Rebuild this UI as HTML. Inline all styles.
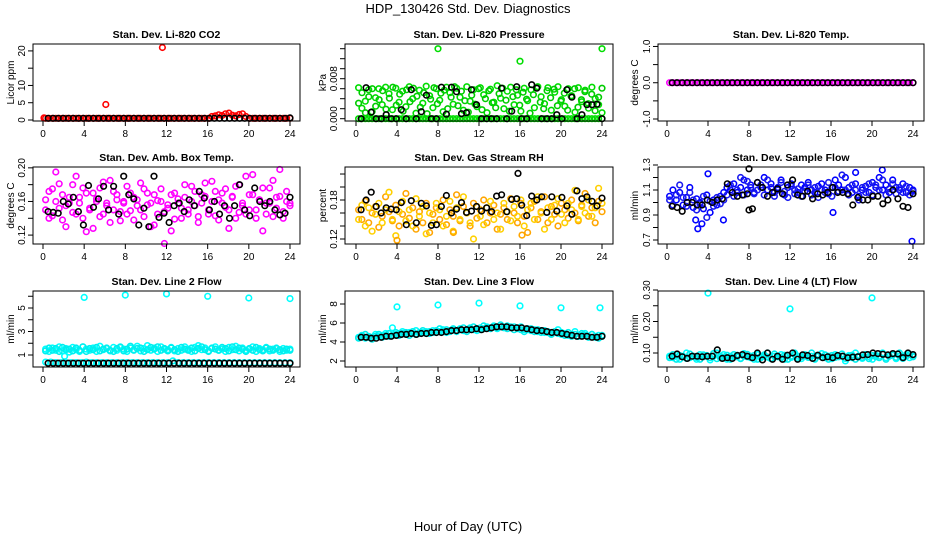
<!DOCTYPE html>
<html><head><meta charset="utf-8">
<style>
html,body{margin:0;padding:0;background:#fff;}
svg{display:block;font-family:"Liberation Sans",Arial,sans-serif;}
</style></head>
<body>
<svg id="chart" width="936" height="540" viewBox="0 0 936 540" xmlns="http://www.w3.org/2000/svg">
<rect width="936" height="540" fill="#fff"/>
<text x="468" y="13" font-size="13" text-anchor="middle">HDP_130426  Std. Dev. Diagnostics</text>
<text x="468" y="531" font-size="13" text-anchor="middle">Hour of Day (UTC)</text>
</svg>
<script>
// ---- data (hour-of-day series; colored sets evenly spaced over 0-24 h) ----
const xTicks = [0,4,8,12,16,20,24];
const titles = ["Stan. Dev. Li-820 CO2","Stan. Dev. Li-820 Pressure","Stan. Dev. Li-820 Temp.","Stan. Dev. Amb. Box Temp.","Stan. Dev. Gas Stream RH","Stan. Dev. Sample Flow","Stan. Dev. Line 2 Flow","Stan. Dev. Line 3 Flow","Stan. Dev. Line 4 (LT) Flow"];
const yTitles = ["Licor ppm","kPa","degrees C","degrees C","percent","ml/min","ml/min","ml/min","ml/min"];
const yTickVals = [[0,5,10,15,20],[0,0.002,0.004,0.006,0.008,0.010,0.012,0.014],[-1,-0.5,0,0.5,1],[0.12,0.14,0.16,0.18,0.20],[0.12,0.14,0.16,0.18,0.20,0.22],[0.7,0.8,0.9,1.0,1.1,1.2,1.3],[1,2,3,4,5,6],[2,4,6,8],[0.10,0.15,0.20,0.25,0.30]];
const yTickLabels = [["0","5","10","","20"],["0.000","","","","0.008","","",""],["-1.0","","0.0","","1.0"],["0.12","","0.16","","0.20"],["0.12","","","0.18","",""],["0.7","","0.9","","1.1","","1.3"],["1","","3","","5",""],["2","4","6","8"],["0.10","","0.20","","0.30"]];

const p1Red = [0.5,0.5,0.5,0.5,0.5,0.5,0.5,0.5,0.5,0.5,0.5,0.5,0.5,0.5,0.5,0.5,0.5,0.5,0.5,0.5,0.5,0.5,0.5,0.5,0.5,0.5,0.5,0.5,0.5,0.5,0.5,0.5,0.5,0.5,0.5,0.5,0.5,0.5,0.5,0.5,0.5,0.5,0.5,0.5,0.5,0.5,0.5,0.5,0.5,1.0,1.2,1.5,1.3,1.8,2.0,1.4,1.2,1.6,1.8,1.0,0.5,0.5,0.5,0.5,0.5,0.5,0.5,0.5,0.5,0.5,0.5,0.5,0.5];
const p1RedExtraH = [0.1,6.1,11.6];
const p1RedExtraV = [0.6,4.5,21];
const p1Black = [0.5,0.5,0.5,0.5,0.5,0.5,0.5,0.5,0.5,0.5,0.5,0.5,0.5,0.5,0.5,0.5,0.5,0.5,0.5,0.5,0.5,0.5,0.5,0.5,0.5,0.5,0.5,0.5,0.5,0.5,0.5,0.5,0.5,0.5,0.5,0.5,0.5,0.5,0.5,0.5,0.5,0.5,0.5,0.5,0.5,0.5,0.5,0.5,0.6];

const p2GreenA = [0.0062,0.0021,0.0035,0.0058,0.0014,0.0042,0.0060,0.0028,0.0063,0.0050,0.0018,0.0061,0.0033,0.0055,0.0024,0.0064,0.0040,0.0011,0.0057,0.0031,0.0065,0.0046,0.0022,0.0060,0.0037,0.0014,0.0063,0.0052,0.0029,0.0061,0.0043,0.0017,0.0064,0.0035,0.0058,0.0024,0.0062,0.0048,0.0012,0.0059,0.0033,0.0066,0.0041,0.0020,0.0055,0.0063,0.0028,0.0047,0.0015,0.0061,0.0036,0.0058,0.0022,0.0064,0.0044,0.0030,0.0062,0.0017,0.0053,0.0064,0.0038,0.0025,0.0060,0.0046,0.0013,0.0062,0.0034,0.0057,0.0021,0.0063,0.0040,0.0028,0.0012];
const p2GreenB = [0.0031,0.0052,0.0012,0.0044,0.0060,0.0025,0.0038,0.0056,0.0019,0.0041,0.0063,0.0027,0.0049,0.0015,0.0058,0.0034,0.0061,0.0045,0.0023,0.0052,0.0010,0.0039,0.0062,0.0030,0.0051,0.0057,0.0020,0.0043,0.0064,0.0026,0.0055,0.0036,0.0013,0.0047,0.0029,0.0060,0.0018,0.0040,0.0056,0.0032,0.0022,0.0050,0.0061,0.0037,0.0015,0.0044,0.0058,0.0027,0.0053,0.0039,0.0011,0.0048,0.0063,0.0033,0.0020,0.0056,0.0042,0.0059,0.0026,0.0035,0.0051,0.0017,0.0045,0.0060,0.0023,0.0038,0.0054,0.0030,0.0049,0.0016,0.0043,0.0061];
const p2GreenC = [0,0,0,0,0,0,0,0,0,0,0,0,0,0,0,0,0,0,0,0,0,0,0,0,0,0,0,0,0,0,0,0,0,0,0,0,0,0,0,0,0,0,0,0,0,0,0,0,0,0,0,0,0,0,0,0,0,0,0,0,0,0,0,0,0,0,0,0,0,0,0,0,0];
const p2GreenExtraH = [8,16,24];
const p2GreenExtraV = [0.0140,0.0115,0.0140];
const p2Black = [0,0.0062,0.0013,0,0,0.0008,0,0,0.0018,0,0.0058,0,0.0014,0.0047,0,0,0.0063,0.0009,0.0063,0.0054,0.0010,0.0012,0.0058,0.0028,0,0,0,0,0.0061,0,0.0015,0.0064,0,0,0.0068,0.0061,0,0,0,0.0008,0,0.0058,0.0043,0,0.0008,0.0028,0.0028,0.0029,0];

const p3Mag = [0,0,0,0,0,0,0,0,0,0,0,0,0,0,0,0,0,0,0,0,0,0,0,0,0,0,0,0,0,0,0,0,0,0,0,0,0,0,0,0,0,0,0,0,0,0,0,0,0,0,0,0,0,0,0,0,0,0,0,0,0,0,0,0,0,0,0,0,0,0,0,0,0];
const p3Black = [0,0,0,0,0,0,0,0,0,0,0,0,0,0,0,0,0,0,0,0,0,0,0,0,0,0,0,0,0,0,0,0,0,0,0,0,0,0,0,0,0,0,0,0,0,0,0,0,0];

const p4MagA = [0.150,0.172,0.143,0.160,0.181,0.138,0.155,0.165,0.147,0.190,0.158,0.140,0.170,0.152,0.128,0.163,0.176,0.145,0.158,0.185,0.150,0.168,0.137,0.160,0.178,0.149,0.165,0.155,0.182,0.142,0.170,0.158,0.132,0.161,0.175,0.148,0.156,0.168,0.139,0.163,0.152,0.180,0.145,0.160,0.172,0.135,0.158,0.166,0.150,0.184,0.143,0.162,0.170,0.153,0.128,0.165,0.178,0.147,0.158,0.190,0.150,0.168,0.140,0.162,0.176,0.145,0.158,0.185,0.152,0.166,0.140,0.172,0.158];
const p4MagB = [0.162,0.140,0.175,0.195,0.152,0.168,0.130,0.158,0.180,0.145,0.165,0.176,0.124,0.150,0.170,0.160,0.142,0.183,0.155,0.135,0.172,0.162,0.148,0.158,0.145,0.170,0.138,0.162,0.150,0.175,0.156,0.130,0.168,0.145,0.160,0.110,0.152,0.125,0.170,0.158,0.140,0.165,0.150,0.178,0.155,0.142,0.168,0.182,0.145,0.160,0.172,0.138,0.158,0.175,0.150,0.166,0.140,0.180,0.155,0.145,0.168,0.192,0.150,0.162,0.125,0.158,0.176,0.142,0.165,0.198,0.148,0.160,0.155];
const p4Black = [0.148,0.147,0.146,0.160,0.157,0.165,0.148,0.132,0.179,0.153,0.163,0.178,0.150,0.178,0.145,0.190,0.168,0.163,0.132,0.152,0.130,0.190,0.141,0.146,0.135,0.155,0.158,0.148,0.162,0.155,0.172,0.164,0.150,0.160,0.145,0.155,0.140,0.155,0.180,0.150,0.143,0.176,0.160,0.155,0.160,0.150,0.144,0.146,0.165];

const p5OrA = [0.165,0.150,0.178,0.145,0.160,0.170,0.138,0.155,0.185,0.162,0.148,0.172,0.140,0.158,0.190,0.152,0.168,0.135,0.162,0.145,0.175,0.130,0.158,0.168,0.150,0.180,0.142,0.165,0.155,0.188,0.148,0.170,0.160,0.140,0.175,0.152,0.165,0.180,0.145,0.160,0.172,0.135,0.158,0.168,0.150,0.182,0.160,0.145,0.175,0.155,0.130,0.168,0.178,0.150,0.162,0.185,0.145,0.170,0.158,0.140,0.175,0.165,0.152,0.180,0.160,0.148,0.172,0.190,0.155,0.168,0.145,0.178,0.162];
const p5OrB = [0.150,0.172,0.140,0.168,0.132,0.158,0.175,0.145,0.165,0.192,0.150,0.125,0.162,0.178,0.148,0.165,0.140,0.182,0.155,0.170,0.128,0.160,0.145,0.175,0.165,0.140,0.155,0.178,0.132,0.168,0.150,0.185,0.160,0.145,0.120,0.170,0.155,0.142,0.168,0.178,0.150,0.160,0.135,0.175,0.162,0.148,0.170,0.155,0.180,0.140,0.165,0.175,0.150,0.185,0.160,0.135,0.168,0.150,0.172,0.182,0.158,0.145,0.175,0.165,0.195,0.150,0.170,0.160,0.180,0.155,0.168,0.198,0.175];
const p5OrExtraH = [4,9.5,16.2];
const p5OrExtraV = [0.118,0.130,0.126];
const p5Black = [0.165,0.180,0.192,0.170,0.160,0.168,0.166,0.165,0.176,0.142,0.179,0.145,0.175,0.171,0.141,0.142,0.170,0.187,0.160,0.166,0.176,0.161,0.163,0.170,0.163,0.168,0.162,0.186,0.188,0.162,0.181,0.182,0.172,0.156,0.186,0.180,0.185,0.161,0.185,0.163,0.184,0.171,0.158,0.194,0.182,0.185,0.178,0.171,0.183];
const p5BlackExtraH = [15.8];
const p5BlackExtraV = [0.221];

const p6BlueA = [1.05,1.10,1.02,1.08,0.98,1.04,1.12,0.96,1.03,1.00,0.95,1.06,0.92,1.02,0.98,1.05,1.08,1.12,1.10,1.15,1.08,1.12,1.18,1.10,1.14,1.08,1.16,1.12,1.20,1.10,1.15,1.08,1.12,1.18,1.06,1.12,1.15,1.10,1.08,1.14,1.12,1.16,1.10,1.08,1.13,1.15,1.10,1.07,1.12,1.18,1.14,1.10,1.20,1.12,1.08,1.15,1.05,1.10,1.13,1.08,1.16,1.12,1.20,1.10,1.14,1.08,1.18,1.12,1.10,1.15,1.08,1.12,1.10];
const p6BlueB = [1.02,0.98,1.06,1.14,1.04,0.97,1.08,1.02,0.94,0.99,1.05,0.88,1.01,0.97,1.04,0.99,1.02,1.06,1.14,1.05,1.10,1.20,1.06,1.17,1.12,1.07,1.10,1.14,1.06,1.18,1.12,1.05,1.10,1.16,1.09,1.04,1.13,1.07,1.11,1.05,1.09,1.14,1.06,1.12,1.04,1.10,1.08,1.16,1.05,1.12,1.09,1.22,1.10,1.06,1.14,1.10,1.02,1.12,1.08,1.15,1.06,1.14,1.10,1.18,1.06,1.11,1.15,1.07,1.12,1.08,1.13,1.06,1.09];
const p6BlueExtraH = [2.8,3.0,3.4,5.5,16.2,18.4,21,23.9,4];
const p6BlueExtraV = [0.86,0.79,0.83,0.86,0.92,1.24,1.26,0.69,1.23];
const p6Black = [0.97,0.96,0.93,1.0,1.0,0.98,0.98,1.02,1.0,1.02,1.03,1.15,1.08,1.05,1.06,1.07,0.95,1.16,1.12,1.05,1.08,1.11,1.07,1.14,1.18,1.06,1.05,1.09,1.03,1.07,1.06,1.08,1.12,1.08,1.08,1.07,0.98,1.04,1.02,1.02,1.05,1.05,0.99,1.02,1.10,1.03,0.97,0.96,1.07];
const p6BlackExtraH = [8,8];
const p6BlackExtraV = [1.27,0.94];

const p7CyanA = [1.5,1.3,1.6,1.4,1.7,1.35,1.55,1.25,1.65,1.45,1.3,1.7,1.5,1.4,1.6,1.3,1.75,1.45,1.55,1.35,1.65,1.4,1.7,1.5,1.3,1.6,1.45,1.75,1.35,1.55,1.8,1.4,1.6,1.3,1.7,1.5,1.45,1.65,1.35,1.55,1.4,1.7,1.5,1.3,1.65,1.8,1.45,1.6,1.35,1.55,1.7,1.4,1.5,1.3,1.65,1.45,1.75,1.35,1.6,1.4,1.5,1.7,1.3,1.55,1.45,1.65,1.35,1.5,1.6,1.3,1.55,1.4,1.5];
const p7CyanB = [1.35,1.6,1.4,1.55,1.3,1.65,1.45,1.5,1.35,1.6,1.4,1.7,1.3,1.55,1.45,1.65,1.35,1.5,1.6,1.4,1.3,1.55,1.65,1.35,1.5,1.75,1.4,1.55,1.6,1.3,1.45,1.65,1.5,1.7,1.4,1.55,1.35,1.6,1.45,1.3,1.65,1.5,1.4,1.6,1.35,1.55,1.7,1.45,1.3,1.6,1.5,1.4,1.65,1.55,1.35,1.7,1.45,1.6,1.5,1.3,1.55,1.4,1.65,1.45,1.35,1.6,1.5,1.4,1.55,1.45,1.35,1.5,1.4];
const p7CyanC = [0.4,0.4,0.35,0.35,0.35,0.35,0.35,0.35,0.4,0.35,0.35,0.35,0.35,0.35,0.35,0.35,0.35,0.35,0.35,0.35,0.35,0.35,0.35,0.35,0.35,0.5,0.35,0.35,0.35,0.35,0.35,0.35,0.35,0.35,0.35,0.35,0.35,0.35,0.35,0.35,0.35,0.35,0.35,0.35,0.35,0.35,0.35,0.35,0.35];
const p7CyanExtraH = [2.1,4,8,12,16,20,24];
const p7CyanExtraV = [0.9,5.9,6.1,6.2,6.0,5.85,5.8];
const p7Black = [0.3,0.3,0.3,0.3,0.3,0.3,0.3,0.3,0.3,0.3,0.3,0.3,0.3,0.3,0.3,0.3,0.3,0.3,0.3,0.3,0.3,0.3,0.3,0.3,0.3,0.3,0.3,0.3,0.3,0.3,0.3,0.3,0.3,0.3,0.3,0.3,0.3,0.3,0.3,0.3,0.3,0.3,0.3,0.3,0.3,0.3,0.3,0.3,0.3];

const p8CyanA = [4.5,4.7,4.4,4.6,4.5,4.8,4.6,4.7,4.9,4.6,5.5,4.8,4.9,5.1,4.8,5.0,4.9,5.2,4.9,5.0,5.1,4.9,5.2,5.0,5.1,5.3,5.0,5.2,5.3,5.1,5.4,5.2,5.3,5.5,5.3,5.2,5.5,5.4,5.6,5.5,5.7,5.4,5.6,5.5,5.7,5.5,5.6,5.4,5.6,5.3,5.4,5.2,5.3,5.1,5.2,5.0,5.1,4.9,5.0,5.3,4.8,4.9,4.7,4.8,5.1,4.6,4.7,4.9,4.6,4.8,4.5,4.7,4.6];
const p8CyanB = [4.4,4.6,4.8,4.5,4.3,4.6,4.8,4.5,4.7,4.9,4.7,5.0,4.7,4.9,5.0,4.7,5.1,4.8,5.0,5.2,4.9,5.1,5.0,5.2,5.4,5.1,5.3,5.1,5.4,5.2,5.3,5.5,5.1,5.4,5.6,5.4,5.3,5.7,5.5,5.4,5.6,5.5,5.8,5.6,5.4,5.6,5.3,5.5,5.3,5.1,5.3,5.4,5.1,5.3,5.0,5.2,5.0,4.8,5.1,4.9,5.0,4.7,5.0,4.6,4.8,4.6,4.9,4.7,4.5,4.8,4.6,4.4,4.7];
const p8CyanC = [1.0,1.0,0.95,1.0,1.0,1.05,1.0,1.0,0.95,1.0,1.0,1.0,1.05,1.0,1.0,0.95,0.8,1.0,1.0,1.05,1.0,1.0,1.0,0.95,1.0,1.0,1.0,1.05,1.0,1.0,0.95,1.0,1.0,1.0,1.0,1.05,1.0,1.0,0.95,1.0,1.0,1.0,1.0,1.05,1.0,1.0,0.95,1.0,1.0];
const p8CyanExtraH = [4,8,12,16,20,23.8];
const p8CyanExtraV = [7.7,7.9,8.1,7.8,7.6,7.6];
const p8Black = [4.5,4.5,4.4,4.4,4.5,4.6,4.6,4.7,4.8,4.8,4.9,4.8,4.9,4.9,5.0,5.0,5.0,5.1,5.2,5.2,5.3,5.3,5.3,5.4,5.3,5.4,5.5,5.6,5.6,5.6,5.5,5.5,5.5,5.4,5.3,5.2,5.2,5.1,5.0,5.0,4.9,4.8,4.7,4.6,4.6,4.6,4.5,4.5,4.6];

const p9CyanA = [0.09,0.085,0.095,0.08,0.09,0.1,0.085,0.09,0.08,0.095,0.088,0.092,0.078,0.09,0.1,0.085,0.095,0.08,0.09,0.087,0.093,0.082,0.098,0.088,0.09,0.08,0.095,0.085,0.09,0.1,0.083,0.09,0.088,0.095,0.08,0.092,0.086,0.1,0.09,0.082,0.095,0.088,0.09,0.08,0.093,0.098,0.085,0.09,0.082,0.095,0.088,0.09,0.075,0.092,0.085,0.1,0.09,0.083,0.095,0.088,0.08,0.093,0.09,0.1,0.085,0.09,0.095,0.082,0.09,0.088,0.095,0.085,0.09];
const p9CyanB = [0.085,0.095,0.08,0.092,0.088,0.083,0.097,0.09,0.086,0.08,0.094,0.09,0.085,0.098,0.082,0.09,0.087,0.093,0.08,0.095,0.088,0.083,0.09,0.096,0.085,0.092,0.08,0.09,0.094,0.087,0.082,0.097,0.09,0.085,0.093,0.08,0.09,0.095,0.083,0.088,0.092,0.086,0.1,0.082,0.09,0.087,0.094,0.08,0.092,0.086,0.09,0.097,0.083,0.088,0.093,0.08,0.09,0.086,0.095,0.082,0.092,0.088,0.085,0.097,0.08,0.09,0.093,0.086,0.1,0.083,0.09,0.095,0.088];
const p9CyanExtraH = [4,12,20];
const p9CyanExtraV = [0.29,0.24,0.275];
const p9Black = [0.09,0.097,0.088,0.083,0.09,0.09,0.088,0.09,0.09,0.11,0.083,0.085,0.083,0.092,0.095,0.09,0.085,0.1,0.078,0.1,0.08,0.09,0.08,0.093,0.1,0.08,0.094,0.092,0.083,0.093,0.085,0.088,0.085,0.092,0.09,0.085,0.087,0.088,0.094,0.095,0.1,0.098,0.096,0.094,0.098,0.097,0.085,0.1,0.095];

// ---- layout (not data) ----
const cols = [{bx0:33,bx1:300,h0:43,h24:290,lab:14},{bx0:345,bx1:613,h0:356,h24:602,lab:326},{bx0:658,bx1:924,h0:667,h24:913,lab:638}];
const rows = [{by0:44,by1:121},{by0:167,by1:244},{by0:291,by1:367}];
const yDomains = [[-0.29,22.0],[-0.00046,0.01494],[-1.055,1.068],[0.1094,0.201],[0.1123,0.2308],[0.668,1.284],[-0.021,6.447],[1.368,9.37],[0.0556,0.2968]];

const panels = [
 {series:[[p1Red,'#ff0000'],[p1Black,'#000']], extras:[[p1RedExtraH,p1RedExtraV,'#ff0000']]},
 {series:[[p2GreenA,'#00dd00'],[p2GreenB,'#00cc00'],[p2GreenC,'#00dd00'],[p2Black,'#000']], extras:[[p2GreenExtraH,p2GreenExtraV,'#00dd00']]},
 {series:[[p3Mag,'#ff00ff'],[p3Black,'#000']], extras:[]},
 {series:[[p4MagA,'#ff00ff'],[p4MagB,'#ff00ff'],[p4Black,'#000']], extras:[]},
 {series:[[p5OrA,'#ffa500'],[p5OrB,'#ffd000'],[p5Black,'#000']], extras:[[p5OrExtraH,p5OrExtraV,'#ffa500'],[p5BlackExtraH,p5BlackExtraV,'#000']]},
 {series:[[p6BlueA,'#0000ff'],[p6BlueB,'#1a1aee'],[p6Black,'#000']], extras:[[p6BlueExtraH,p6BlueExtraV,'#0000ff'],[p6BlackExtraH,p6BlackExtraV,'#000']]},
 {series:[[p7CyanA,'#00ffff'],[p7CyanB,'#00eeee'],[p7CyanC,'#00ffff'],[p7Black,'#000']], extras:[[p7CyanExtraH,p7CyanExtraV,'#00ffff']]},
 {series:[[p8CyanA,'#00ffff'],[p8CyanB,'#00eeee'],[p8CyanC,'#00ffff'],[p8Black,'#000']], extras:[[p8CyanExtraH,p8CyanExtraV,'#00ffff']]},
 {series:[[p9CyanA,'#00ffff'],[p9CyanB,'#00eeee'],[p9Black,'#000']], extras:[[p9CyanExtraH,p9CyanExtraV,'#00ffff']]}
];

const NS = 'http://www.w3.org/2000/svg';
const svg = document.getElementById('chart');
function mk(tag, attrs, parent){ const e=document.createElementNS(NS,tag); for(const k in attrs) e.setAttribute(k,attrs[k]); (parent||svg).appendChild(e); return e; }

panels.forEach((p,i)=>{
  const c = cols[i%3], r = rows[Math.floor(i/3)], dom = yDomains[i];
  const xs = h => c.h0 + (c.h24-c.h0)*h/24;
  const ys = v => r.by1 - (v-dom[0])/(dom[1]-dom[0])*(r.by1-r.by0);
  const g = mk('g',{});
  
  
  const t = mk('text',{x:(c.bx0+c.bx1)/2,y:r.by0-6,'font-size':10.5,'font-weight':'bold','text-anchor':'middle'},g);
  t.textContent = titles[i];
  
  
  const yl = mk('text',{transform:`translate(${c.lab},${(r.by0+r.by1)/2}) rotate(-90)`,'font-size':10,'text-anchor':'middle'},g);
  yl.textContent = yTitles[i];
  
  
  const pts = mk('g',{fill:'none','stroke-width':1.6},g);
  
  
  const drawPt = (h,v,col)=>{
    const y = ys(v); if (y<r.by0-2||y>r.by1+2) return;
    const cpt = mk('circle',{cx:xs(h).toFixed(1),cy:y.toFixed(1),r:2.8,stroke:col},pts);
    
    
  };
  const colored = p.series.filter(s=>s[1]!=='#000'), black = p.series.filter(s=>s[1]==='#000');
  colored.forEach(([vals,col])=>{ const n=vals.length; vals.forEach((v,k)=>drawPt(0.25+k*23.75/(n-1),v,col)); });
  p.extras.filter(e=>e[2]!=='#000').forEach(([hs,vs,col])=>hs.forEach((h,k)=>drawPt(h,vs[k],col)));
  black.forEach(([vals,col])=>{ const n=vals.length; vals.forEach((v,k)=>drawPt(0.5+k*23.5/(n-1),v,col)); });
  p.extras.filter(e=>e[2]==='#000').forEach(([hs,vs,col])=>hs.forEach((h,k)=>drawPt(h,vs[k],col)));
  const box = mk('rect',{x:c.bx0,y:r.by0,width:c.bx1-c.bx0,height:r.by1-r.by0,fill:'none',stroke:'#000','stroke-width':1},g);
  
  
  xTicks.forEach(h=>{
    const x = xs(h);
    mk('line',{x1:x,x2:x,y1:r.by1,y2:r.by1+5,stroke:'#000'},g);
    const tl = mk('text',{x:x,y:r.by1+16,'font-size':10,'text-anchor':'middle'},g);
    tl.textContent = h;
    
    
  });
  yTickVals[i].forEach((v,k)=>{
    const y = ys(v);
    mk('line',{x1:c.bx0-5,x2:c.bx0,y1:y,y2:y,stroke:'#000'},g);
    const lab = yTickLabels[i][k];
    if (lab){
      const tl = mk('text',{transform:`translate(${c.bx0-8},${y}) rotate(-90)`,'font-size':10,'text-anchor':'middle'},g);
      tl.textContent = lab;
      
      
    }
  });
});
</script>
</body></html>
